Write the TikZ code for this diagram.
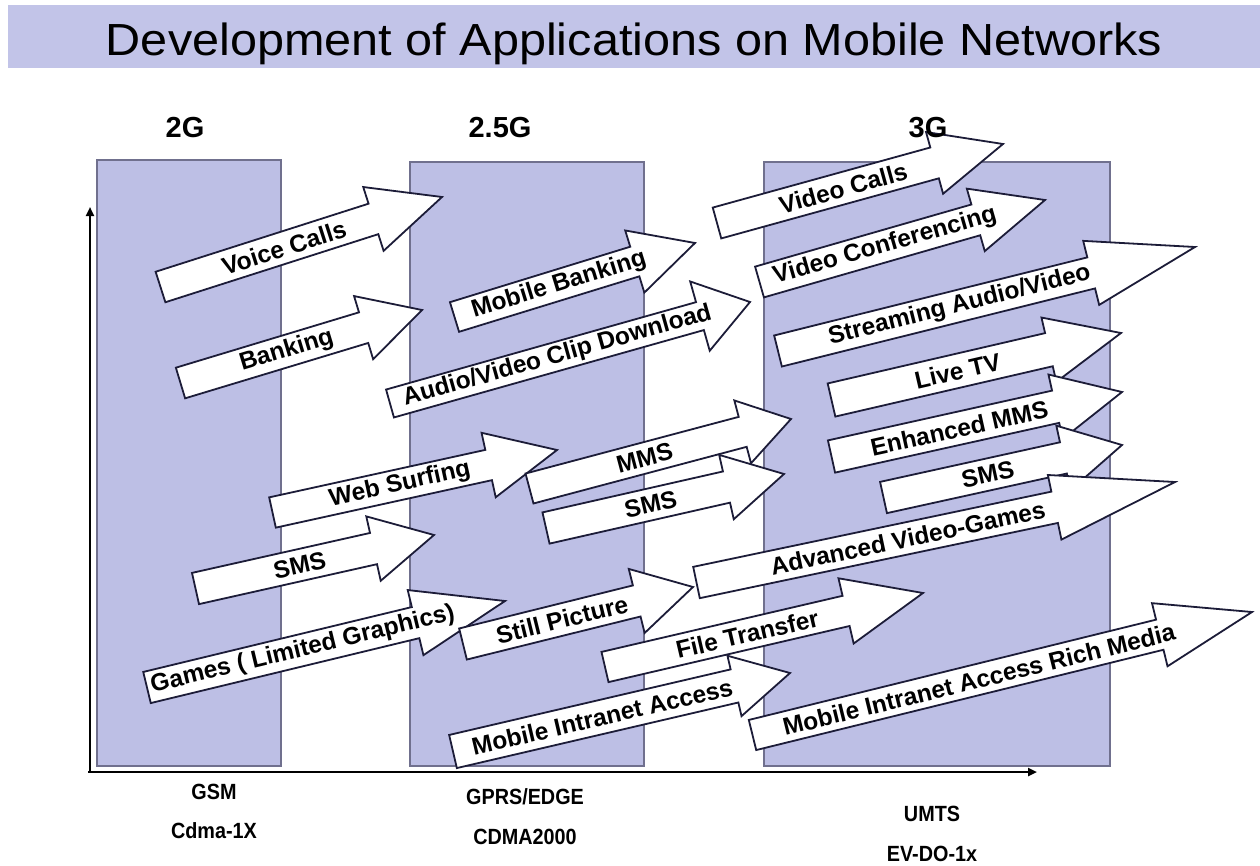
\documentclass[tikz,border=0pt]{standalone}
\usepackage{fontspec}
\setmainfont{Liberation Sans}
\usetikzlibrary{calc,arrows.meta}

\definecolor{band}{RGB}{194,196,232}
\definecolor{lane}{RGB}{189,191,229}
\definecolor{laneedge}{RGB}{112,112,142}
\definecolor{arrowline}{RGB}{28,28,56}

\tikzset{
  lanebox/.style={fill=lane, draw=laneedge, line width=1.2pt},
  apparrow/.style={fill=white, draw=arrowline, line width=1.8pt, line join=miter},
  apptext/.style={inner sep=0pt, text=black, font=\fontsize{24.5}{24.5}\selectfont\bfseries},
  genlabel/.style={anchor=base, font=\fontsize{29}{29}\selectfont\bfseries},
  techlabel/.style={font=\fontsize{22}{22}\selectfont\bfseries},
  axisline/.style={line width=2.2pt, -{Triangle[length=9pt,width=8pt]}},
}

% block arrow: name, tail centre, tip, shaft half-width, head half-width,
% head length, text position along the shaft, text
\newcommand\blockarrow[8]{%
  \coordinate (#1-t) at (#2);
  \coordinate (#1-p) at (#3);
  \coordinate (#1-b) at ($(#1-p)!#6!(#1-t)$);
  \draw[apparrow]
    ($(#1-t)!#4!90:(#1-p)$) -- ($(#1-b)!#4!90:(#1-p)$) --
    ($(#1-b)!#5!90:(#1-p)$) -- (#1-p) --
    ($(#1-b)!#5!-90:(#1-p)$) -- ($(#1-b)!#4!-90:(#1-p)$) --
    ($(#1-t)!#4!-90:(#1-p)$) -- cycle;
  \path (#1-t) -- (#1-b) node[apptext, pos=#7, sloped] (#1) {#8};
}

\begin{document}
\begin{tikzpicture}[x=1pt,y=-1pt]
\useasboundingbox (0,0) rectangle (1260,865);
\fill[white] (0,0) rectangle (1260,865);

% title band
\fill[band] (8,5) rectangle (1260,68);
\node[anchor=base, font=\fontsize{45}{45}\selectfont] (title) at (634,55)
  {\scalebox{1.08}[1]{Development of Applications on Mobile Networks}};

% generation lanes
\path[lanebox] (97,160) rectangle (281,766);
\path[lanebox] (410,162) rectangle (644,766);
\path[lanebox] (764,162) rectangle (1110,766);

% axes
\coordinate (origin) at (90,772);
\coordinate (xstart) at (88,772);
\coordinate (xend) at (1037,772);
\coordinate (yend) at (90,207);
\draw[axisline] (xstart) -- (xend);
\draw[axisline] (origin) -- (yend);

% applications
\blockarrow{voice}{160.5,287}{442,197}{16pt}{33.5pt}{72pt}{0.58}{Voice Calls}
\blockarrow{banking}{180.5,383}{422,310}{16pt}{33pt}{61pt}{0.58}{Banking}
\blockarrow{mbank}{454.5,317}{695,243}{15.5pt}{32.5pt}{63pt}{0.58}{Mobile Banking}
\blockarrow{avclip}{390,403.5}{750,302}{14.5pt}{36pt}{52pt}{0.54}{Audio/Video Clip Download}
\blockarrow{vcalls}{717,223}{1003,144}{16pt}{32pt}{71pt}{0.58}{Video Calls}
\blockarrow{vconf}{759.5,282}{1045,200}{16pt}{32.5pt}{72pt}{0.58}{Video Conferencing}
\blockarrow{stream}{778,351}{1195,247}{16pt}{33pt}{107pt}{0.58}{Streaming Audio/Video}
\blockarrow{livetv}{831.5,400}{1121,333}{17pt}{33pt}{74pt}{0.58}{Live TV}
\blockarrow{emms}{831.5,456.5}{1122,392}{16.5pt}{33pt}{68pt}{0.57}{Enhanced MMS}
\blockarrow{smsthree}{883.5,497.5}{1122,445}{16pt}{33pt}{60pt}{0.58}{SMS}
\blockarrow{web}{272.5,512.5}{557,450}{15.5pt}{33pt}{70pt}{0.59}{Web Surfing}
\blockarrow{mms}{529.5,488.5}{791,419}{15.5pt}{32.5pt}{50pt}{0.54}{MMS}
\blockarrow{smsmid}{546,528}{784,474}{16pt}{33pt}{59pt}{0.58}{SMS}
\blockarrow{smstwo}{195.5,588.5}{434,535}{16pt}{33pt}{62pt}{0.585}{SMS}
\blockarrow{games}{147,687.5}{505,601}{16pt}{33.5pt}{92pt}{0.58}{Games ( Limited Graphics)}
\blockarrow{still}{463,644}{693,587}{16pt}{33pt}{58pt}{0.57}{Still Picture}
\blockarrow{advgames}{696.5,582.5}{1175,482}{16pt}{33pt}{123pt}{0.59}{Advanced Video-Games}
\blockarrow{ftrans}{605,667}{923,593}{15.5pt}{33.5pt}{79pt}{0.59}{File Transfer}
\blockarrow{intranet}{453,751.5}{790,673}{17pt}{31pt}{57pt}{0.53}{Mobile Intranet Access}
\blockarrow{richmedia}{752.5,735}{1252,612}{15.5pt}{32.5pt}{95pt}{0.556}{Mobile Intranet Access Rich Media}

% generation headings
\node[genlabel] (gtwo) at (185,137) {2G};
\node[genlabel] (gmid) at (500,137) {2.5G};
\node[genlabel] (gthree) at (928,137) {3G};

% network technologies
\node[techlabel] (gsm) at (214,792) {\scalebox{0.9}[1]{GSM}};
\node[techlabel] (cdmaone) at (214,831) {\scalebox{0.9}[1]{Cdma-1X}};
\node[techlabel] (gprs) at (525,797) {\scalebox{0.9}[1]{GPRS/EDGE}};
\node[techlabel] (cdmatwo) at (525,837) {\scalebox{0.9}[1]{CDMA2000}};
\node[techlabel] (umts) at (932,814) {\scalebox{0.9}[1]{UMTS}};
\node[techlabel] (evdo) at (932,854) {\scalebox{0.9}[1]{EV-DO-1x}};
\end{tikzpicture}
\end{document}
